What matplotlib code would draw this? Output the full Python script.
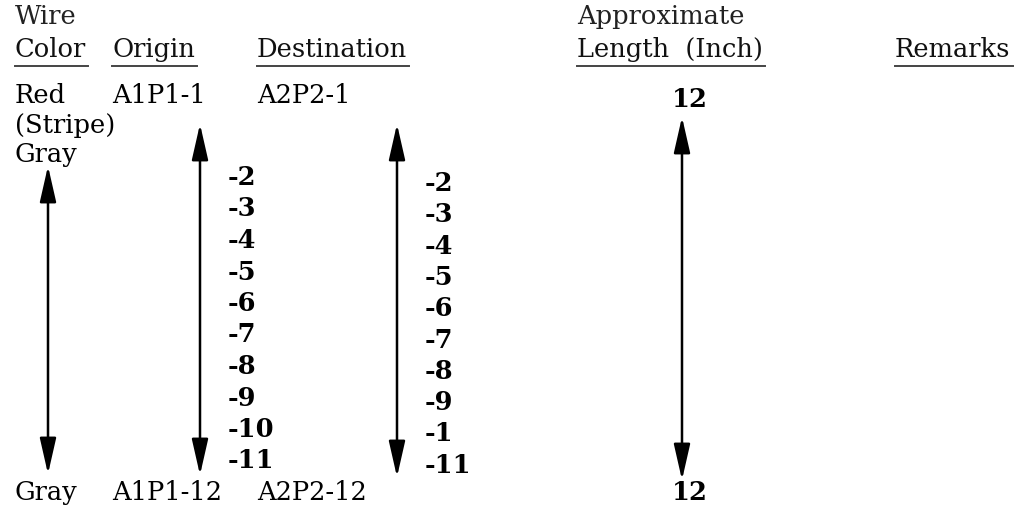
import matplotlib
matplotlib.use('Agg')
import matplotlib.pyplot as plt
from matplotlib.patches import FancyArrowPatch

# table content
head_top = ['Wire', '', '', 'Approximate', '']
head_main = ['Color', 'Origin', 'Destination', 'Length  (Inch)', 'Remarks']
wire_color = ['Red', '(Stripe)', 'Gray']
wire_color_last = 'Gray'
origin_first, origin_last = 'A1P1-1', 'A1P1-12'
dest_first, dest_last = 'A2P2-1', 'A2P2-12'
origin_pins = ['-2', '-3', '-4', '-5', '-6', '-7', '-8', '-9', '-10', '-11']
dest_pins = ['-2', '-3', '-4', '-5', '-6', '-7', '-8', '-9', '-1', '-11']
length_first, length_last = '12', '12'

# layout (pixels, y down)
W, H = 1035, 505
col_x = [15, 112, 257, 577, 895]
y_top, y_head, y_ul = 24, 57, 66
y_row1, pitch = 103, 29.5
y_last = 500

fig = plt.figure(figsize=(W / 100, H / 100), dpi=100)
ax = fig.add_axes([0, 0, 1, 1])
ax.set_xlim(0, W)
ax.set_ylim(H, 0)
ax.axis('off')

fs = 18.5
font = dict(family='DejaVu Serif', fontsize=fs, va='baseline', ha='left')

fig.canvas.draw()
r = fig.canvas.get_renderer()
inv = ax.transData.inverted()
for i in range(len(head_main)):
    if head_top[i]:
        ax.text(col_x[i], y_top, head_top[i], color='#222222', **font)
    t = ax.text(col_x[i], y_head, head_main[i], color='#111111', **font)
    bb = t.get_window_extent(renderer=r)
    x_end = inv.transform((bb.x1, 0))[0]
    ax.plot([col_x[i], x_end + 2], [y_ul, y_ul], color='#444444', lw=1.4)

# wire color column
for k, name in enumerate(wire_color):
    ax.text(col_x[0], y_row1 + k * pitch, name, **font)
ax.text(col_x[0], y_last, wire_color_last, **font)

# origin / destination
ax.text(col_x[1], y_row1, origin_first, **font)
ax.text(col_x[1], y_last, origin_last, **font)
ax.text(col_x[2], y_row1, dest_first, **font)
ax.text(col_x[2], y_last, dest_last, **font)

pin_font = {**font, 'fontsize': 18.5}
for k, p in enumerate(origin_pins):
    ax.text(228, 185 + k * 31.5, p, fontweight='bold', **pin_font)
for k, p in enumerate(dest_pins):
    ax.text(425, 191 + k * 31.3, p, fontweight='bold', **pin_font)

# length column
ax.text(690, 107, length_first, fontweight='bold', **{**font, 'ha': 'center'})
ax.text(690, y_last, length_last, fontweight='bold', **{**font, 'ha': 'center'})


def dbl_arrow(x, y0, y1):
    a = FancyArrowPatch((x, y0), (x, y1),
                        arrowstyle='<|-|>,head_length=2.2,head_width=0.5',
                        mutation_scale=10, lw=1.8, color='black',
                        shrinkA=0, shrinkB=0)
    ax.add_patch(a)


dbl_arrow(48, 166, 474)
dbl_arrow(200, 124, 475)
dbl_arrow(397, 124, 477)
dbl_arrow(682, 117, 480)

fig.savefig('out.png', dpi=100)
